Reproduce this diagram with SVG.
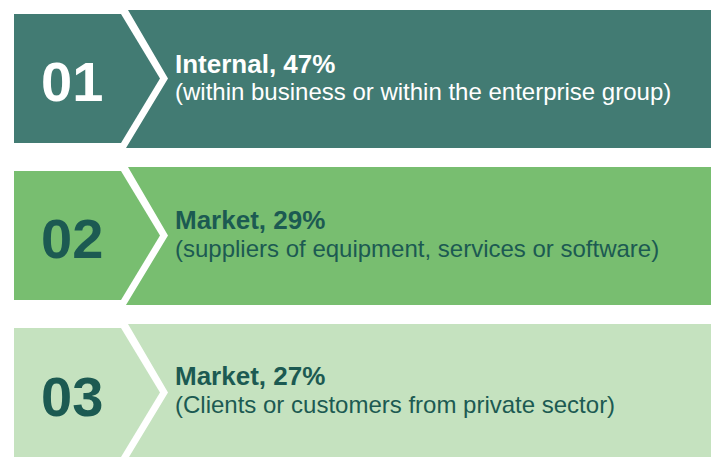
<svg xmlns="http://www.w3.org/2000/svg" width="718" height="457" viewBox="0 0 718 457">
<style>
.num{font-family:"Liberation Sans",Arial,sans-serif;font-weight:bold;font-size:56px}
.ttl{font-family:"Liberation Sans",Arial,sans-serif;font-weight:bold;font-size:26px}
.sub{font-family:"Liberation Sans",Arial,sans-serif;font-size:24px}
.light{fill:#ffffff}
.dark{fill:#1c5a52}
.c1{fill:#427b73}
.c2{fill:#78be70}
.c3{fill:#c5e2bf}
</style>
<rect width="718" height="457" fill="#ffffff"/>
<g id="row1">
<path class="c1" d="M128,10 H711 V148 H126 L168,78.5 Z"/>
<path class="c1" d="M14,14 H121 L160,78.5 L121,143 H14 Z"/>
<text class="num light" x="41" y="101">01</text>
<text class="ttl light" x="175" y="73">Internal, 47%</text>
<text class="sub light" x="175" y="100">(within business or within the enterprise group)</text>
</g>
<g id="row2">
<path class="c2" d="M128,167 H711 V305 H126 L168,235.5 Z"/>
<path class="c2" d="M14,171 H121 L160,235.5 L121,300 H14 Z"/>
<text class="num dark" x="41" y="258">02</text>
<text class="ttl dark" x="175" y="229">Market, 29%</text>
<text class="sub dark" x="175" y="257">(suppliers of equipment, services or software)</text>
</g>
<g id="row3">
<path class="c3" d="M128,324 H711 V462 H126 L168,392.5 Z"/>
<path class="c3" d="M14,328 H121 L160,392.5 L121,457 H14 Z"/>
<text class="num dark" x="41" y="416">03</text>
<text class="ttl dark" x="175" y="385">Market, 27%</text>
<text class="sub dark" x="175" y="413">(Clients or customers from private sector)</text>
</g>
<g id="connectors"></g>
</svg>
